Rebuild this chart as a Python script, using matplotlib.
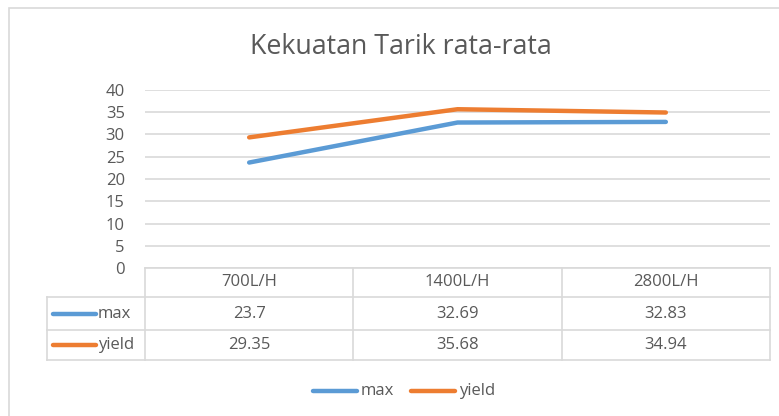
import matplotlib
matplotlib.use("Agg")
import matplotlib.pyplot as plt
from matplotlib.lines import Line2D
from matplotlib.patches import Rectangle

categories = ["700L/H", "1400L/H", "2800L/H"]
series_names = ["max", "yield"]
max_vals = [23.7, 32.69, 32.83]
yield_vals = [29.35, 35.68, 34.94]
max_labels = ["23.7", "32.69", "32.83"]
yield_labels = ["29.35", "35.68", "34.94"]
yticks = [0, 5, 10, 15, 20, 25, 30, 35, 40]
title = "Kekuatan Tarik rata-rata"

W, H = 779, 416
FONT = "Open Sans"
TXT = "#595959"
GRID = "#D9D9D9"
BLUE = "#5B9BD5"
ORANGE = "#ED7D31"
FS = 12

plt.rcParams['font.family'] = [FONT, 'DejaVu Sans']

fig = plt.figure(figsize=(W / 100, H / 100), dpi=100)

def fx(px):
    return px / W

def fy(py):
    return 1 - py / H

# outer chart border
fig.add_artist(Rectangle((fx(9), fy(430)), fx(800), fy(8) - fy(430),
                         transform=fig.transFigure, fill=False,
                         edgecolor=GRID, linewidth=1.2))

ax_l, ax_r, ax_t, ax_b = 145, 770, 90, 268
ax = fig.add_axes([fx(ax_l), fy(ax_b), fx(ax_r - ax_l), fy(ax_t) - fy(ax_b)])
ax.set_xlim(0, 3)
ax.set_ylim(0, 40)
ax.set_yticks(yticks)
ax.set_yticklabels([str(v) for v in yticks], fontsize=FS, color=TXT)
ax.set_xticks([])
ax.tick_params(axis='y', length=0, pad=14.5)
for s in ax.spines.values():
    s.set_visible(False)
ax.grid(axis='y', color=GRID, linewidth=1.2)
ax.set_axisbelow(True)

xs = [i + 0.5 for i in range(len(categories))]
ax.plot(xs, max_vals, color=BLUE, linewidth=3.2, solid_capstyle='round', clip_on=False)
ax.plot(xs, yield_vals, color=ORANGE, linewidth=3.2, solid_capstyle='round', clip_on=False)

fig.text(fx(401), fy(47), title, ha='center', va='center',
         fontsize=19.3, color=TXT)

# data table
row_y = [268, 297, 330, 360]
label_left = 47
tr = ax.transData
def col_px(xd):
    return tr.transform((xd, 0))[0] / fig.dpi * 100

col_edges = [col_px(i) for i in range(len(categories) + 1)]
lw_t = 1.2
def hline(x0, x1, y):
    fig.add_artist(Line2D([fx(x0), fx(x1)], [fy(y), fy(y)], transform=fig.transFigure,
                          color=GRID, linewidth=lw_t))
def vline(x, y0, y1):
    fig.add_artist(Line2D([fx(x), fx(x)], [fy(y0), fy(y1)], transform=fig.transFigure,
                          color=GRID, linewidth=lw_t))

hline(col_edges[0], col_edges[-1], row_y[0])
for y in row_y[1:]:
    hline(label_left, col_edges[-1], y)
for x in col_edges:
    vline(x, row_y[0], row_y[-1])
vline(label_left, row_y[1], row_y[-1])

for i, c in enumerate(categories):
    cx = 0.5 * (col_edges[i] + col_edges[i + 1])
    fig.text(fx(cx), fy(0.5 * (row_y[0] + row_y[1])), c, ha='center', va='center',
             fontsize=FS, color=TXT)
    fig.text(fx(cx), fy(0.5 * (row_y[1] + row_y[2])), max_labels[i], ha='center', va='center',
             fontsize=FS, color=TXT)
    fig.text(fx(cx), fy(0.5 * (row_y[2] + row_y[3])), yield_labels[i], ha='center', va='center',
             fontsize=FS, color=TXT)

for k, (name, col) in enumerate(zip(series_names, [BLUE, ORANGE])):
    yc = 0.5 * (row_y[k + 1] + row_y[k + 2])
    fig.add_artist(Line2D([fx(53), fx(96)], [fy(yc), fy(yc)], transform=fig.transFigure,
                          color=col, linewidth=3.2, solid_capstyle='round'))
    fig.text(fx(98), fy(yc), name, ha='left', va='center', fontsize=FS, color=TXT)

# bottom legend
leg_y = 391
for (x0, x1, tx), name, col in zip([(313, 357, 361), (411, 455, 459)], series_names, [BLUE, ORANGE]):
    fig.add_artist(Line2D([fx(x0), fx(x1)], [fy(leg_y), fy(leg_y)], transform=fig.transFigure,
                          color=col, linewidth=3.2, solid_capstyle='round'))
    fig.text(fx(tx), fy(leg_y), name, ha='left', va='center', fontsize=FS, color=TXT)

fig.savefig("out.png", dpi=100, facecolor='white')
